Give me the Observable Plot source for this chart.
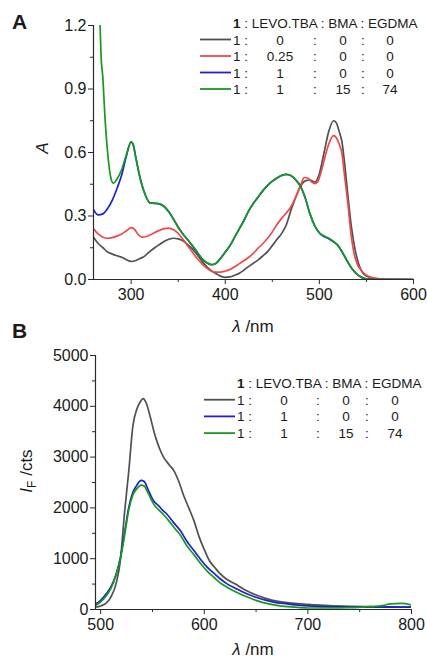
<!DOCTYPE html>
<html><head><meta charset="utf-8">
<script src="https://cdn.jsdelivr.net/npm/d3@7"></script>
<script src="https://cdn.jsdelivr.net/npm/@observablehq/plot@0.6"></script>
<style>
body{margin:0;background:#fff;font-family:"Liberation Sans",Arial,sans-serif;}
#wrap{position:relative;width:427px;height:665px;overflow:hidden}
#wrap svg{position:absolute;left:0;overflow:visible}
</style></head><body><div id="wrap"></div>
<script>
// ---------- Panel A : absorption ----------
const absSeries = ["1:0:0:0", "1:0.25:0:0", "1:1:0:0", "1:1:15:74"];
const absColors = ["#505050", "#f04848", "#1e1ed2", "#169a1a"];

const grayWl = [260,265,270,275,280,285,290,295,300,305,310,315,320,325,330,335,340,345,350,355,360,365,370,375,380,385,390,395,400,405,410,415,420,425,430,435,440,445,450,455,460,465,470,475,480,485,490,495,500,505,510,515,518,521,524,527,530,534,538,542,546,550,555,560,570,600];
const grayA  = [0.20,0.17,0.15,0.13,0.12,0.112,0.105,0.093,0.085,0.09,0.10,0.113,0.133,0.15,0.165,0.18,0.19,0.195,0.192,0.183,0.165,0.145,0.118,0.088,0.062,0.042,0.028,0.016,0.01,0.012,0.02,0.03,0.045,0.062,0.077,0.093,0.112,0.132,0.16,0.19,0.218,0.26,0.33,0.39,0.44,0.466,0.47,0.46,0.50,0.60,0.70,0.75,0.74,0.70,0.65,0.54,0.41,0.25,0.14,0.07,0.032,0.016,0.008,0.004,0.001,0];

const redWl = [260,265,270,275,280,285,290,295,300,303,307,312,316,320,325,330,335,340,345,350,355,360,365,370,375,380,385,390,395,400,405,410,415,420,425,430,435,440,445,450,455,460,465,470,475,480,484,488,492,495,498,502,506,510,515,518,521,524,527,530,534,537,540,545,550,555,560,570,600];
const redA  = [0.24,0.215,0.2,0.195,0.198,0.205,0.215,0.23,0.245,0.24,0.215,0.2,0.203,0.21,0.222,0.232,0.24,0.243,0.235,0.218,0.19,0.16,0.13,0.1,0.075,0.055,0.04,0.035,0.035,0.04,0.047,0.06,0.075,0.09,0.105,0.125,0.148,0.17,0.195,0.225,0.26,0.29,0.315,0.345,0.39,0.445,0.482,0.478,0.46,0.453,0.46,0.51,0.58,0.64,0.68,0.67,0.64,0.595,0.48,0.37,0.2,0.12,0.075,0.04,0.02,0.01,0.005,0.001,0];

const blueWl = [260,265,270,275,280,285,290,295,300,302,305,310,315,320,325,330,335,340,345,350,355,360,365,370,375,380,385,390,395,400,405,410,415,420,425,430,435,440,445,450,455,460,465,470,475,480,485,490,495,500,505,510,515,520,525,530,535,540,545,550,560,600];
const blueA  = [0.33,0.305,0.31,0.335,0.375,0.43,0.495,0.585,0.65,0.64,0.575,0.47,0.4,0.362,0.36,0.357,0.345,0.32,0.285,0.247,0.215,0.188,0.16,0.13,0.1,0.08,0.07,0.076,0.1,0.13,0.16,0.2,0.24,0.28,0.325,0.36,0.39,0.42,0.445,0.465,0.48,0.492,0.497,0.49,0.47,0.44,0.385,0.31,0.255,0.22,0.203,0.193,0.178,0.158,0.123,0.083,0.048,0.024,0.01,0.003,0,0];

const greenWl = [265,267,268,270,272,275,278,281,285,290,295,300,302,305,310,315,320,325,330,335,340,345,350,355,360,365,370,375,380,385,390,395,400,405,410,415,420,425,430,435,440,445,450,455,460,465,470,475,480,485,490,495,500,505,510,515,520,525,530,535,540,545,550,560,600];
const greenA  = [1.35,1.2,1.06,0.95,0.78,0.6,0.49,0.455,0.475,0.52,0.59,0.65,0.64,0.575,0.47,0.4,0.362,0.36,0.357,0.345,0.32,0.285,0.247,0.215,0.188,0.16,0.13,0.1,0.08,0.07,0.076,0.1,0.13,0.16,0.2,0.24,0.28,0.325,0.36,0.39,0.42,0.445,0.465,0.48,0.492,0.497,0.49,0.47,0.44,0.385,0.31,0.255,0.22,0.205,0.195,0.18,0.16,0.125,0.085,0.05,0.025,0.01,0.003,0,0];

const absWl = [grayWl, redWl, blueWl, greenWl];
const absVals = [grayA, redA, blueA, greenA];
const absXTicks = [300, 400, 500, 600];
const absXMinor = [350, 450, 550];
const absYTicks = [0, 0.3, 0.6, 0.9, 1.2];
const absYMinor = [0.15, 0.45, 0.75, 1.05];

// ---------- Panel B : fluorescence ----------
const flSeries = ["1:0:0:0", "1:1:0:0", "1:1:15:74"];
const flColors = ["#505050", "#1e1ed2", "#169a1a"];

const flGrayWl = [495,500,505,510,515,519,523,527,531,535,538,541,544,548,552,555,558,561,566,571,575,580,585,590,595,600,605,610,615,620,630,640,650,660,670,680,690,700,720,740,760,780,800];
const flGray   = [45,70,120,250,520,960,1900,2700,3600,3950,4080,4150,4060,3780,3460,3270,3110,2990,2850,2720,2540,2250,2000,1750,1430,1180,960,830,710,620,500,380,285,215,165,135,115,100,75,62,55,50,45];

const flBlueWl = [495,500,505,510,515,519,523,527,531,535,539,542,546,551,556,560,564,570,577,583,590,597,603,610,615,622,630,641,650,660,667,680,693,710,730,760,800];
const flBlue   = [110,180,300,450,700,1020,1500,2000,2300,2450,2540,2520,2350,2140,2040,1950,1875,1720,1550,1350,1160,970,830,700,610,505,420,310,240,180,145,110,80,60,50,45,45];

const flGreenWl = [495,500,505,510,515,519,523,527,531,535,539,542,546,551,556,561,566,571,577,583,590,597,603,610,615,622,630,641,650,660,670,680,690,700,720,740,760,770,780,790,800];
const flGreen   = [80,150,260,420,690,1000,1450,1950,2250,2380,2450,2430,2280,2080,1960,1860,1740,1610,1460,1260,1080,890,750,620,530,440,350,250,180,120,80,55,40,30,30,35,55,70,110,120,90];

const flWl = [flGrayWl, flBlueWl, flGreenWl];
const flVals = [flGray, flBlue, flGreen];
const flXTicks = [500, 600, 700, 800];
const flXMinor = [550, 650, 750];
const flYTicks = [0, 1000, 2000, 3000, 4000, 5000];
const flYMinor = [500, 1500, 2500, 3500, 4500];

// legend tables
const ratioHeader = "LEVO.TBA : BMA : EGDMA";
const absLegendRows = [["0","0","0"],["0.25","0","0"],["1","0","0"],["1","15","74"]];
const flLegendRows = [["0","0","0"],["1","0","0"],["1","15","74"]];

// ---------- build ----------
const FONT = "Liberation Sans, Arial, sans-serif";
const axisColor = "#2a2a2a";
const wrap = document.getElementById("wrap");

function toRows(wls, vals, names) {
  const out = [];
  wls.forEach((w, i) => w.forEach((x, j) => out.push({s: names[i], x, y: vals[i][j]})));
  return out;
}

function makePanel(opts) {
  const data = toRows(opts.wl, opts.vals, opts.names);
  const p = Plot.plot({
    width: 427, height: opts.height,
    marginTop: opts.mt, marginBottom: opts.mb, marginLeft: opts.ml, marginRight: opts.mr,
    style: {fontFamily: FONT, fontSize: "16px", color: "#1a1a1a", background: "transparent", overflow: "visible"},
    x: {domain: opts.xd},
    y: {domain: opts.yd},
    color: {domain: opts.names, range: opts.colors},
    marks: [
      Plot.lineY(data, {x: "x", y: "y", z: "s", stroke: "s", strokeWidth: 1.7, curve: "monotone-x", clip: true}),
      Plot.axisX({ticks: opts.xt, tickSize: 5, tickPadding: 4, label: null, stroke: axisColor, fontSize: 16}),
      Plot.axisX({ticks: opts.xm, tickSize: 3, tickFormat: () => "", label: null, stroke: axisColor}),
      Plot.axisY({ticks: opts.yt, tickSize: 5, tickPadding: 2, tickFormat: opts.yf, label: null, stroke: axisColor, fontSize: 16}),
      Plot.axisY({ticks: opts.ym, tickSize: 3, tickFormat: () => "", label: null, stroke: axisColor}),
      Plot.ruleX([opts.xd[0]], {stroke: axisColor, strokeWidth: 1.2}),
      Plot.ruleY([opts.yd[0]], {stroke: axisColor, strokeWidth: 1.2})
    ]
  });
  p.style.top = opts.top + "px";
  wrap.appendChild(p);
}

makePanel({wl: absWl, vals: absVals, names: absSeries, colors: absColors, height: 330, top: 0,
  mt: 25, mb: 51, ml: 93, mr: 14, xd: [260, 600], yd: [0, 1.2],
  xt: absXTicks, xm: absXMinor, yt: absYTicks, ym: absYMinor, yf: d3.format(".1f")});
makePanel({wl: flWl, vals: flVals, names: flSeries, colors: flColors, height: 335, top: 330,
  mt: 25, mb: 56, ml: 95, mr: 16, xd: [495, 800], yd: [0, 5000],
  xt: flXTicks, xm: flXMinor, yt: flYTicks, ym: flYMinor, yf: d3.format("d")});

// overlay for labels and legends
const ov = d3.select(wrap).append("svg").attr("width", 427).attr("height", 665)
  .style("top", "0px").attr("font-family", FONT).attr("fill", "#1a1a1a");

ov.append("text").attr("x", 12).attr("y", 29).attr("font-size", 21).attr("font-weight", "bold").text("A");
ov.append("text").attr("x", 12).attr("y", 338).attr("font-size", 21).attr("font-weight", "bold").text("B");

function xLabel(x, y) {
  const t = ov.append("text").attr("x", x).attr("y", y).attr("font-size", 17).attr("text-anchor", "middle");
  t.append("tspan").attr("font-style", "italic").text("λ");
  t.append("tspan").text(" /nm");
}
xLabel(253, 332);
xLabel(253, 655);

ov.append("text").attr("transform", "translate(48,148) rotate(-90)").attr("text-anchor", "middle")
  .attr("font-size", 17).attr("font-style", "italic").text("A");
const yl = ov.append("text").attr("transform", "translate(32,471) rotate(-90)").attr("text-anchor", "middle").attr("font-size", 17);
yl.append("tspan").attr("font-style", "italic").text("I");
yl.append("tspan").attr("font-size", 12).attr("dy", 4).text("F");
yl.append("tspan").attr("dy", -4).text(" /cts");

function legend(x0, yHead, dy, rows, colors, cols) {
  const g = ov.append("g").attr("font-size", 13.5);
  const h = g.append("text").attr("x", x0 + 33).attr("y", yHead + 5);
  h.append("tspan").attr("font-weight", "bold").text("1");
  h.append("tspan").text(" : " + ratioHeader);
  rows.forEach((r, i) => {
    const y = yHead + dy * (i + 1);
    g.append("line").attr("x1", x0).attr("x2", x0 + 31).attr("y1", y).attr("y2", y)
      .attr("stroke", colors[i]).attr("stroke-width", 1.8);
    g.append("text").attr("x", x0 + 33).attr("y", y + 5).text("1 :");
    g.append("text").attr("x", cols[0]).attr("y", y + 5).attr("text-anchor", "middle").text(r[0]);
    g.append("text").attr("x", cols[1]).attr("y", y + 5).attr("text-anchor", "middle").text(":");
    g.append("text").attr("x", cols[2]).attr("y", y + 5).attr("text-anchor", "middle").text(r[1]);
    g.append("text").attr("x", cols[3]).attr("y", y + 5).attr("text-anchor", "middle").text(":");
    g.append("text").attr("x", cols[4]).attr("y", y + 5).attr("text-anchor", "middle").text(r[2]);
  });
}
legend(200, 23, 16.5, absLegendRows, absColors, [280, 315, 343, 363, 390]);
legend(204, 383, 16.7, flLegendRows, flColors, [284, 318, 346, 367, 395]);
</script></body></html>
